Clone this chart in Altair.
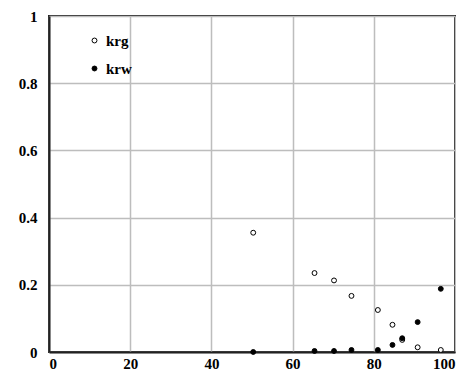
import altair as alt
import pandas as pd

sw_krg = [50.3, 65.4, 70.2, 74.5, 81.0, 84.6, 87.0, 90.8, 96.5]
krg = [0.355, 0.235, 0.213, 0.167, 0.125, 0.081, 0.036, 0.014, 0.006]
sw_krw = [50.3, 65.4, 70.2, 74.5, 81.0, 84.6, 87.0, 90.8, 96.5]
krw = [0.0, 0.003, 0.003, 0.006, 0.006, 0.021, 0.041, 0.089, 0.188]

rows = [{"sw": x, "kr": y, "series": "krg"} for x, y in zip(sw_krg, krg)]
rows += [{"sw": x, "kr": y, "series": "krw"} for x, y in zip(sw_krw, krw)]
df = pd.DataFrame(rows)

FONT = "Liberation Serif"

chart = alt.Chart(df).mark_point(filled=False, size=24, strokeWidth=1, stroke="black", opacity=1).encode(
    x=alt.X("sw:Q", scale=alt.Scale(domain=[0, 100], nice=False),
            axis=alt.Axis(values=[0, 20, 40, 60, 80, 100], title=None, tickSize=0,
                          labelPadding=4, labelFontSize=15, grid=True)),
    y=alt.Y("kr:Q", scale=alt.Scale(domain=[0, 1], nice=False),
            axis=alt.Axis(values=[0, 0.2, 0.4, 0.6, 0.8, 1.0], title=None, tickSize=0,
                          labelPadding=12, labelFontSize=15, grid=True, format="~g")),
    fill=alt.Fill("series:N", scale=alt.Scale(domain=["krg", "krw"], range=["white", "black"]),
                  legend=alt.Legend(title=None, orient="none", legendX=38, legendY=17,
                                    labelFont=FONT, labelFontSize=15, labelFontWeight="bold",
                                    labelColor="black", symbolSize=24, symbolStrokeColor="black",
                                    symbolStrokeWidth=1, rowPadding=12, padding=0,
                                    labelOffset=4)),
).properties(
    width=406, height=336,
    autosize=alt.AutoSizeParams(type="none"),
    padding={"left": 41, "top": 8, "right": 1, "bottom": 20},
).configure_view(
    stroke="#222222", strokeWidth=2
).configure_axis(
    labelFont=FONT, labelFontWeight="bold", labelColor="black",
    gridColor="#bdbdbd", gridWidth=1.5, domainColor="#222222", domainWidth=2,
)

chart.save("out.html", embed_options={"renderer": "svg", "actions": False})
